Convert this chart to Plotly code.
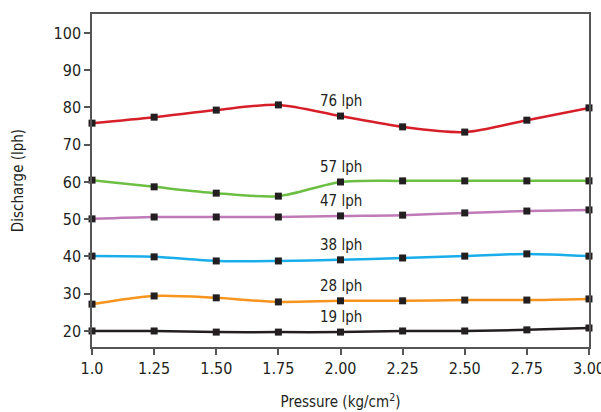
import plotly.graph_objects as go

pressure = [1.0, 1.25, 1.5, 1.75, 2.0, 2.25, 2.5, 2.75, 3.0]
tick_labels = ["1.0", "1.25", "1.50", "1.75", "2.00", "2.25", "2.50", "2.75", "3.00"]

q76 = [75.8, 77.4, 79.3, 80.7, 77.7, 74.8, 73.4, 76.6, 79.9]
q57 = [60.5, 58.7, 57.0, 56.2, 60.0, 60.3, 60.3, 60.3, 60.3]
q47 = [50.1, 50.6, 50.6, 50.6, 50.9, 51.1, 51.7, 52.2, 52.5]
q38 = [40.1, 39.9, 38.8, 38.8, 39.1, 39.6, 40.1, 40.7, 40.1]
q28 = [27.2, 29.4, 28.9, 27.8, 28.1, 28.1, 28.3, 28.3, 28.6]
q19 = [20.0, 20.0, 19.7, 19.7, 19.7, 20.0, 20.0, 20.3, 20.8]

series_names = ["76 lph", "57 lph", "47 lph", "38 lph", "28 lph", "19 lph"]
series_vals = [q76, q57, q47, q38, q28, q19]
colors = ["#d71f2a", "#6cbf43", "#c07ab8", "#19aeea", "#f7941d", "#231f20"]

font_family = "DejaVu Sans Condensed"

fig = go.Figure()
for name, vals, col in zip(series_names, series_vals, colors):
    fig.add_trace(go.Scatter(
        x=pressure, y=vals, mode="lines+markers", name=name,
        line=dict(color=col, width=2.5, shape="spline", smoothing=0.8),
        marker=dict(symbol="square", size=7, color="#231f20"),
        cliponaxis=False,
    ))
    fig.add_annotation(x=2.0, y=vals[4], text=name, showarrow=False,
                       yshift=15, xanchor="center", yanchor="middle",
                       font=dict(size=15, color="#231f20", family=font_family))

axis_common = dict(showline=True, linecolor="#555555", linewidth=1.5, mirror=True,
                   showgrid=False, zeroline=False, ticks="outside", ticklen=6,
                   tickcolor="#555555", tickwidth=1.5, automargin=False,
                   ticklabeloverflow="allow",
                   tickfont=dict(size=16, color="#231f20", family=font_family))

fig.update_layout(
    width=601, height=412,
    margin=dict(l=92, r=12, t=14, b=65),
    plot_bgcolor="white", paper_bgcolor="white",
    showlegend=False,
    xaxis=dict(range=[0.9999, 3.0001], tickvals=pressure, ticktext=tick_labels,
               title=dict(text="Pressure (kg/cm<sup>2</sup>)", standoff=20,
                          font=dict(size=15, color="#231f20", family=font_family)),
               **axis_common),
    yaxis=dict(range=[15.7, 105.1], tickvals=[20, 30, 40, 50, 60, 70, 80, 90, 100],
               title=dict(text="Discharge (lph)", standoff=26,
                          font=dict(size=15, color="#231f20", family=font_family)),
               **axis_common),
)

fig.write_html("out.html", config={"displayModeBar": False},
               post_script="document.body.style.margin='0';document.body.style.overflow='hidden';")
